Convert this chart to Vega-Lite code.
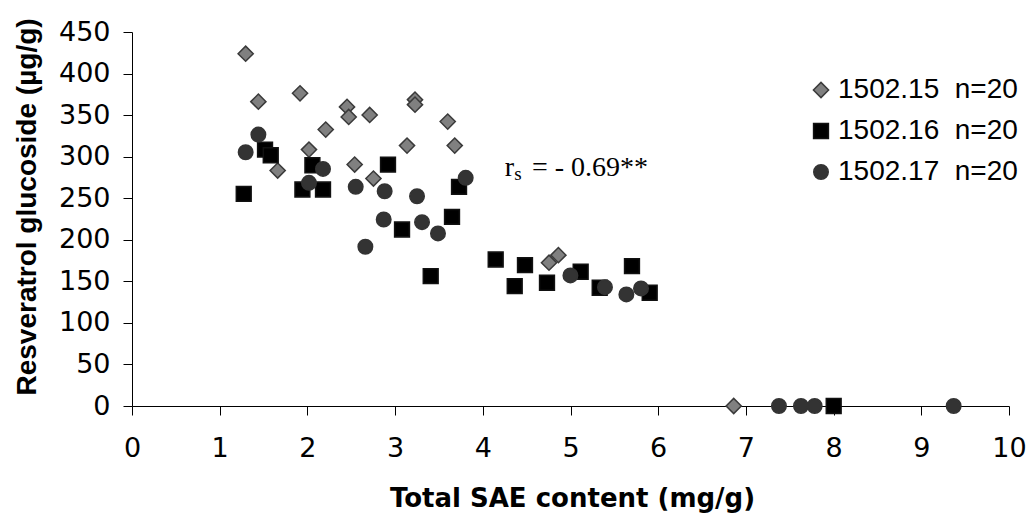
{
  "$schema": "https://vega.github.io/schema/vega-lite/v6.json",
  "autosize": {"type": "none"},
  "padding": {"left": 132, "top": 32, "right": 17, "bottom": 112},
  "width": 877,
  "height": 374,
  "background": "white",
  "config": {
    "view": {"stroke": null},
    "axis": {"grid": false, "domainColor": "black", "tickColor": "black", "labelColor": "black", "titleColor": "black", "domainWidth": 1, "tickWidth": 1},
    "legend": {"orient": "none", "legendX": 675, "legendY": 44, "title": null, "padding": 0, "labelFont": "Liberation Sans", "labelFontSize": 28, "labelColor": "black", "labelOffset": 3, "rowPadding": 13, "labelLimit": 400}
  },
  "layer": [
    {
      "data": {"values": [
        {"s": "1502.15", "x": 1.296, "y": 423.9},
        {"s": "1502.15", "x": 1.441, "y": 366.2},
        {"s": "1502.15", "x": 1.916, "y": 376.2},
        {"s": "1502.15", "x": 2.452, "y": 359.9},
        {"s": "1502.15", "x": 2.471, "y": 347.8},
        {"s": "1502.15", "x": 2.209, "y": 332.6},
        {"s": "1502.15", "x": 2.018, "y": 308.5},
        {"s": "1502.15", "x": 1.661, "y": 283.3},
        {"s": "1502.15", "x": 2.71, "y": 350.2},
        {"s": "1502.15", "x": 3.227, "y": 368.6},
        {"s": "1502.15", "x": 3.227, "y": 362.6},
        {"s": "1502.15", "x": 3.6, "y": 342.2},
        {"s": "1502.15", "x": 3.136, "y": 313.3},
        {"s": "1502.15", "x": 3.68, "y": 313.3},
        {"s": "1502.15", "x": 2.539, "y": 290.5},
        {"s": "1502.15", "x": 2.753, "y": 273.7},
        {"s": "1502.15", "x": 4.755, "y": 172.4},
        {"s": "1502.15", "x": 4.862, "y": 181.5},
        {"s": "1502.15", "x": 6.861, "y": 0},
        {"s": "1502.16", "x": 1.274, "y": 255.3},
        {"s": "1502.16", "x": 1.517, "y": 308.5},
        {"s": "1502.16", "x": 1.582, "y": 301.7},
        {"s": "1502.16", "x": 2.057, "y": 289.7},
        {"s": "1502.16", "x": 1.943, "y": 260.5},
        {"s": "1502.16", "x": 2.178, "y": 260.5},
        {"s": "1502.16", "x": 2.919, "y": 290.5},
        {"s": "1502.16", "x": 3.729, "y": 263.7},
        {"s": "1502.16", "x": 3.649, "y": 227.6},
        {"s": "1502.16", "x": 3.079, "y": 212.4},
        {"s": "1502.16", "x": 3.406, "y": 156.3},
        {"s": "1502.16", "x": 4.147, "y": 176.3},
        {"s": "1502.16", "x": 4.481, "y": 169.5},
        {"s": "1502.16", "x": 4.364, "y": 144.2},
        {"s": "1502.16", "x": 4.732, "y": 148.3},
        {"s": "1502.16", "x": 5.116, "y": 161.5},
        {"s": "1502.16", "x": 5.701, "y": 168.3},
        {"s": "1502.16", "x": 5.333, "y": 142.3},
        {"s": "1502.16", "x": 5.903, "y": 136.3},
        {"s": "1502.16", "x": 8.001, "y": 0},
        {"s": "1502.17", "x": 1.441, "y": 326.6},
        {"s": "1502.17", "x": 1.296, "y": 305.3},
        {"s": "1502.17", "x": 2.178, "y": 285.3},
        {"s": "1502.17", "x": 2.018, "y": 268.5},
        {"s": "1502.17", "x": 2.551, "y": 263.7},
        {"s": "1502.17", "x": 2.881, "y": 258.4},
        {"s": "1502.17", "x": 3.25, "y": 252.4},
        {"s": "1502.17", "x": 3.805, "y": 274.5},
        {"s": "1502.17", "x": 2.87, "y": 224.4},
        {"s": "1502.17", "x": 3.307, "y": 221.2},
        {"s": "1502.17", "x": 3.489, "y": 207.6},
        {"s": "1502.17", "x": 2.661, "y": 191.6},
        {"s": "1502.17", "x": 4.999, "y": 157.1},
        {"s": "1502.17", "x": 5.393, "y": 143.0},
        {"s": "1502.17", "x": 5.637, "y": 134.3},
        {"s": "1502.17", "x": 5.804, "y": 141.5},
        {"s": "1502.17", "x": 7.377, "y": 0},
        {"s": "1502.17", "x": 7.628, "y": 0},
        {"s": "1502.17", "x": 7.784, "y": 0},
        {"s": "1502.17", "x": 9.369, "y": 0}
      ]},
      "mark": {"type": "point", "filled": true, "opacity": 1, "strokeWidth": 1.5, "strokeOpacity": 1},
      "encoding": {
        "x": {
          "field": "x", "type": "quantitative",
          "scale": {"domain": [0, 10], "nice": false, "zero": false},
          "axis": {
            "values": [0, 1, 2, 3, 4, 5, 6, 7, 8, 9, 10],
            "format": "d",
            "tickSize": 9,
            "labelFont": "DejaVu Sans", "labelFontSize": 27, "labelPadding": 20,
            "labelFlush": false, "labelOverlap": false,
            "title": "Total SAE content (mg/g)",
            "titleFont": "DejaVu Sans", "titleFontSize": 26, "titleFontWeight": "bold",
            "titleBaseline": "alphabetic", "titleY": 100, "titleX": 440
          }
        },
        "y": {
          "field": "y", "type": "quantitative",
          "scale": {"domain": [0, 450], "nice": false, "zero": true},
          "axis": {
            "values": [0, 50, 100, 150, 200, 250, 300, 350, 400, 450],
            "tickSize": 9,
            "labelFont": "DejaVu Sans", "labelFontSize": 27, "labelPadding": 13,
            "labelFlush": false, "labelOverlap": false,
            "title": "Resveratrol glucoside (µg/g)",
            "titleFont": "Liberation Sans", "titleFontSize": 28, "titleFontWeight": "bold",
            "titleAngle": 270, "titleAlign": "left", "titleBaseline": "alphabetic",
            "titleX": -97, "titleY": 363
          }
        },
        "shape": {"field": "s", "type": "nominal", "scale": {"domain": ["1502.15", "1502.16", "1502.17"], "range": ["diamond", "square", "circle"]}, "legend": {"labelExpr": "datum.label + '\u00a0\u00a0n=20'"}},
        "fill": {"field": "s", "type": "nominal", "scale": {"domain": ["1502.15", "1502.16", "1502.17"], "range": ["#808080", "#000000", "#333333"]}, "legend": {"labelExpr": "datum.label + '\u00a0\u00a0n=20'"}},
        "stroke": {"field": "s", "type": "nominal", "scale": {"domain": ["1502.15", "1502.16", "1502.17"], "range": ["#3a3a3a", "#111111", "#333333"]}, "legend": {"labelExpr": "datum.label + '\u00a0\u00a0n=20'"}},
        "size": {"field": "s", "type": "nominal", "scale": {"domain": ["1502.15", "1502.16", "1502.17"], "range": [230, 210, 170]}, "legend": {"labelExpr": "datum.label + '\u00a0\u00a0n=20'"}}
      }
    },
    {
      "data": {"values": [{"t": "r", "x": 4.25, "y": 277.3}]},
      "mark": {"type": "text", "font": "Liberation Serif", "fontSize": 28, "align": "left", "baseline": "alphabetic", "color": "black"},
      "encoding": {"x": {"field": "x", "type": "quantitative"}, "y": {"field": "y", "type": "quantitative"}, "text": {"field": "t"}}
    },
    {
      "data": {"values": [{"t": "s", "x": 4.36, "y": 272.5}]},
      "mark": {"type": "text", "font": "Liberation Serif", "fontSize": 19, "align": "left", "baseline": "alphabetic", "color": "black"},
      "encoding": {"x": {"field": "x", "type": "quantitative"}, "y": {"field": "y", "type": "quantitative"}, "text": {"field": "t"}}
    },
    {
      "data": {"values": [{"t": "= - 0.69**", "x": 4.56, "y": 277.3}]},
      "mark": {"type": "text", "font": "Liberation Serif", "fontSize": 28, "align": "left", "baseline": "alphabetic", "color": "black"},
      "encoding": {"x": {"field": "x", "type": "quantitative"}, "y": {"field": "y", "type": "quantitative"}, "text": {"field": "t"}}
    }
  ]
}
